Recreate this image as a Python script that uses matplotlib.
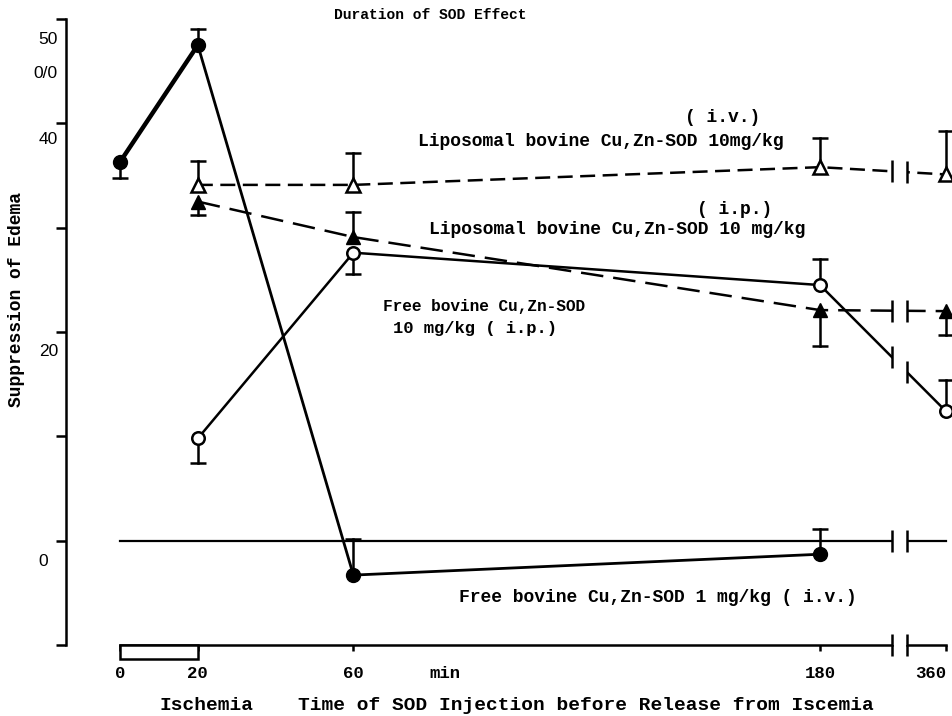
import matplotlib
matplotlib.use("Agg")
import matplotlib.pyplot as plt
import numpy as np
from matplotlib.patches import Rectangle

# time points (min before release from ischemia)
free1_min = [0, 20, 60, 180]
free1_val = [36.3, 47.5, -3.3, -1.3]
free1_lo = [1.5, 0, 0, 0]
free1_hi = [0, 1.5, 3.5, 2.4]

lipo_iv_min = [20, 60, 180, 360]
lipo_iv_val = [34.1, 34.1, 35.8, 35.1]
lipo_iv_lo = [0, 0, 0, 0]
lipo_iv_hi = [2.3, 3.1, 2.8, 4.2]

lipo_ip_min = [20, 60, 180, 360]
lipo_ip_val = [32.5, 29.1, 22.1, 22.0]
lipo_ip_lo = [1.3, 0, 3.4, 2.3]
lipo_ip_hi = [0, 2.4, 0, 0]

free10_min = [20, 60, 180, 360]
free10_val = [9.8, 27.6, 24.5, 12.4]
free10_lo = [2.4, 2.0, 0, 0]
free10_hi = [0, 0, 2.5, 3.0]

zero_min = [0, 360]
zero_val = [0, 0]

xtick_min = [0, 20, 60, 180, 360]
xtick_labels = ["0", "20", "60", "180", "360"]
ytick_vals = [-10, 0, 10, 20, 30, 40, 50]

W, H = 953, 716
MONO = "Liberation Mono"
LW = 1.8
BREAK = (198.5, 202.4)


def xt(m):
    # axis is broken between 180 and 360 min
    return np.interp(m, [0, 180, 360], [0, 180, 212.4])


def fx(px):
    return px / W


def fy(py):
    return 1 - py / H


def draw_err(ax, mins, vals, lo, hi):
    x = xt(mins)
    for xi, v, l, h in zip(x, vals, lo, hi):
        for d in (-l, h):
            if d:
                ax.plot([xi, xi], [v, v + d], color="k", lw=LW, zorder=2, clip_on=False)
                ax.plot([xi], [v + d], marker="_", ms=11, mew=LW, color="k",
                        zorder=2, clip_on=False)


def draw_breaks(ax, mins, vals, clip=True):
    ys = np.interp(BREAK, xt(mins), vals)
    ax.plot(BREAK, ys, ls="none", marker="|", ms=16, mew=LW, color="k",
            zorder=6, clip_on=clip)


def label(px, py, s, size=13, ha="center", **kw):
    fig.text(fx(px), fy(py), s, family=MONO, fontsize=size, weight="bold",
             ha=ha, va="center", **kw)


fig = plt.figure(figsize=(W / 100, H / 100), dpi=100)
ax = fig.add_axes([fx(66), fy(645), (W - 66) / W, (645 - 19) / H])
ax.set_xlim(-13.9, 214.2)
ax.set_ylim(-10, 50)

for s in ("top", "right"):
    ax.spines[s].set_visible(False)
ax.spines["left"].set_linewidth(LW)
ax.spines["bottom"].set_linewidth(LW)
ax.spines["bottom"].set_bounds(0, BREAK[0])
ax.plot([BREAK[1], xt(360)], [-10, -10], color="k", lw=LW, clip_on=False)

ax.set_yticks(ytick_vals)
ax.tick_params(axis="y", direction="out", length=7, width=LW, labelleft=False)
ax.set_xticks(xt(xtick_min))
ax.set_xticklabels(xtick_labels, family=MONO, fontsize=12.5, weight="bold")
ax.tick_params(axis="x", direction="out", length=4, width=LW, pad=11)
ax.get_xticklabels()[-1].set_ha("right")

# zero reference line
ax.plot(xt(zero_min), zero_val, color="k", lw=1.6, zorder=2)

# free SOD 1 mg/kg i.v.
ax.plot(xt(free1_min[:2]), free1_val[:2], color="k", lw=3.2, zorder=3)
ax.plot(xt(free1_min), free1_val, color="k", lw=2.0, marker="o", ms=10,
        mfc="k", mec="k", zorder=3)
draw_err(ax, free1_min, free1_val, free1_lo, free1_hi)

# liposomal 10 mg/kg i.v.
ax.plot(xt(lipo_iv_min), lipo_iv_val, color="k", lw=LW, dashes=(6, 3),
        marker="^", ms=10, mfc="white", mec="k", mew=LW, zorder=3, clip_on=False)
draw_err(ax, lipo_iv_min, lipo_iv_val, lipo_iv_lo, lipo_iv_hi)

# liposomal 10 mg/kg i.p.
ax.plot(xt(lipo_ip_min), lipo_ip_val, color="k", lw=LW, dashes=(9, 4),
        marker="^", ms=10, mfc="k", mec="k", zorder=3, clip_on=False)
draw_err(ax, lipo_ip_min, lipo_ip_val, lipo_ip_lo, lipo_ip_hi)

# free SOD 10 mg/kg i.p.
ax.plot(xt(free10_min), free10_val, color="k", lw=LW, marker="o", ms=9,
        mfc="white", mec="k", mew=LW, zorder=3, clip_on=False)
draw_err(ax, free10_min, free10_val, free10_lo, free10_hi)

# axis break
ax.axvspan(BREAK[0], BREAK[1], color="white", zorder=4, lw=0)
for mins, vals in ((lipo_iv_min, lipo_iv_val), (lipo_ip_min, lipo_ip_val),
                   (free10_min, free10_val), (zero_min, zero_val)):
    draw_breaks(ax, mins, vals)
draw_breaks(ax, [0, 360], [-10, -10], clip=False)

# ischemia bar under the axis
ax.add_patch(Rectangle((xt(0), -10), xt(20) - xt(0), -1.34, fc="white",
                       ec="k", lw=LW, clip_on=False, zorder=3))

# y labels, set a bit below their ticks as in the original
ysans = dict(family="Liberation Sans", fontsize=12.5, va="center")
fig.text(fx(58), fy(40), "50", ha="right", **ysans)
fig.text(fx(58), fy(73), "0/0", ha="right", **ysans)
fig.text(fx(58), fy(140), "40", ha="right", **ysans)
fig.text(fx(58), fy(352), "20", ha="right", **ysans)
fig.text(fx(43), fy(562), "0", ha="center", **ysans)

label(17, 300, "Suppression of Edema", rotation=90)
label(430, 15, "Duration of SOD Effect", size=10.5)

label(723, 118, "( i.v.)")
label(783, 142, "Liposomal bovine Cu,Zn-SOD 10mg/kg", ha="right")
label(735, 210, "( i.p.)")
label(805, 230, "Liposomal bovine Cu,Zn-SOD 10 mg/kg", ha="right")
label(484, 306, "Free bovine Cu,Zn-SOD", size=11.6)
label(475, 329, "10 mg/kg ( i.p.)", size=12.3)
label(857, 598, "Free bovine Cu,Zn-SOD 1 mg/kg ( i.v.)", ha="right")

label(445, 673, "min", size=12.5)
label(207, 705, "Ischemia", size=14)
label(586, 705, "Time of SOD Injection before Release from Iscemia", size=14)

fig.savefig("out.png", dpi=100)
